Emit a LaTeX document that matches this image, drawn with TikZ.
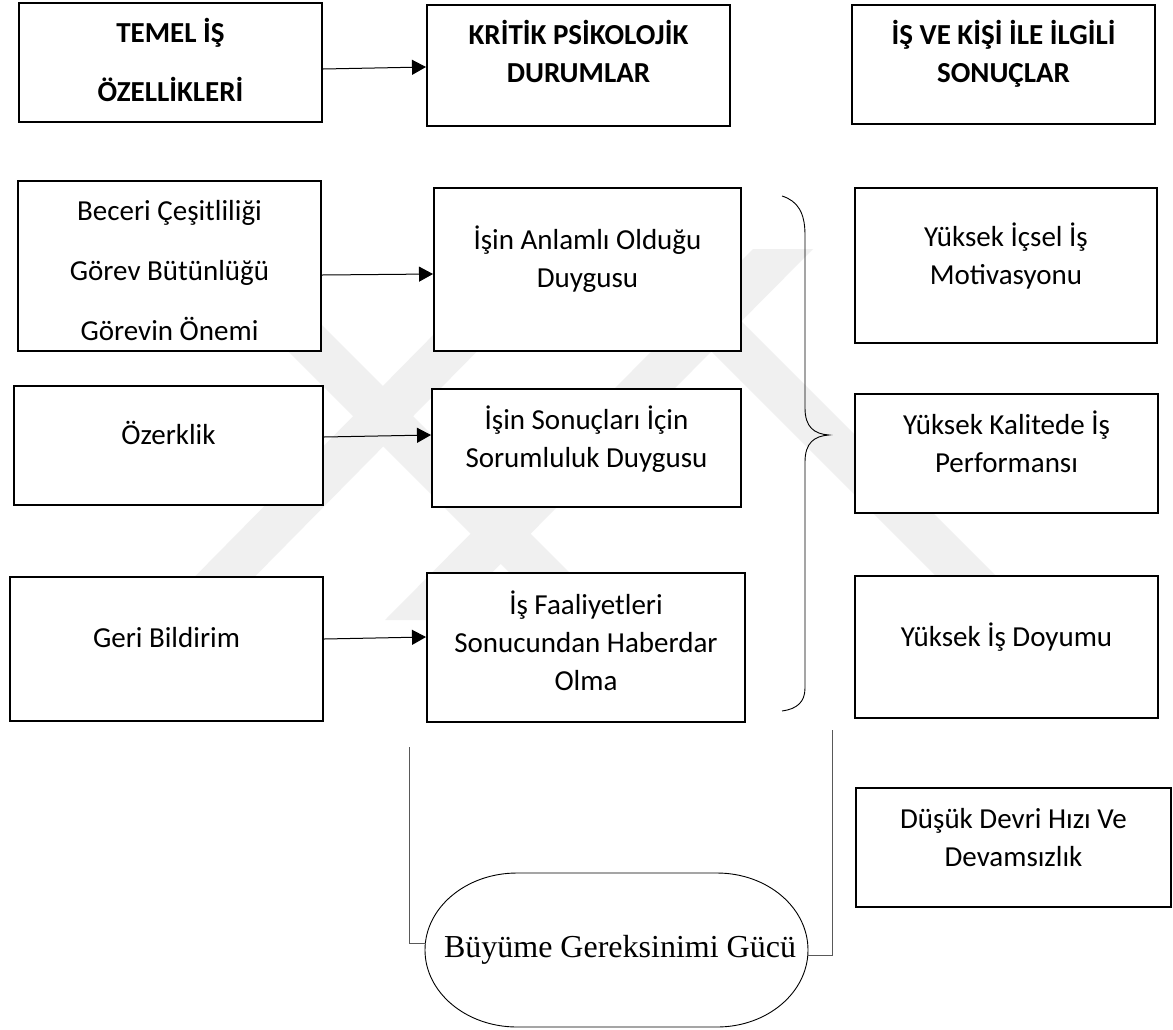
\documentclass[tikz,border=0pt]{standalone}
\usepackage{fontspec}
\setmainfont{Carlito}
\newfontfamily\serifface{Liberation Serif}
\usetikzlibrary{arrows.meta}

% strut that gives every text line the same height and depth
\newcommand\ls{\rule[-0.25em]{0pt}{1.05em}}
% rectangle node given by its corners (x1,y1) and (x2,y2)
\newcommand\boxat[5]{%
  \node[box, minimum width={#4-#2}, minimum height={#5-#3}] (#1) at ({(#2+#4)/2},{(#3+#5)/2}) {};}
% faint diagonal band of the background emblem: top-left x, bottom-left x
\newcommand\band[2]{%
  \fill[emblem] (#1,249) -- ({#1+60},249) -- ({#2+60},620) -- (#2,620) -- cycle;}

\tikzset{
  box/.style={draw, line width=2pt, inner sep=0pt, fill=white},
  txt/.style={align=center, inner sep=0pt, font=\fontsize{29}{38}\selectfont},
  wide/.style={align=center, inner sep=0pt, font=\fontsize{29}{60}\selectfont},
  headtxt/.style={align=center, inner sep=0pt, font=\fontsize{29}{38}\selectfont\bfseries},
  headwide/.style={align=center, inner sep=0pt, font=\fontsize{29}{59}\selectfont\bfseries},
  arr/.style={line width=1pt, -{Triangle[length=14pt,width=15pt]}},
  link/.style={line width=1pt, draw=black!65},
  brace/.style={line width=0.9pt},
  emblem/.style={fill=black!6},
}

\begin{document}
\begin{tikzpicture}[x=1pt,y=-1pt]
\fill[white] (0,0) rectangle (1173,1029);
\useasboundingbox (0,0) rectangle (1173,1029);

% background emblem
\band{518}{152}
\band{186}{557}
\band{753}{385}
\band{609}{980}

% column headings
\boxat{h1}{19}{3}{322}{122}
\boxat{h2}{427}{5}{730}{126}
\boxat{h3}{852}{5}{1155}{124}
\node[headwide] (h1t) at (170.5,63.5) {\ls TEMEL İŞ\\\ls ÖZELLİKLERİ};
\node[headtxt] (h2t) at (578.5,55) {\ls KRİTİK PSİKOLOJİK\\\ls DURUMLAR};
\node[headtxt] (h3t) at (1003.5,55) {\ls İŞ VE KİŞİ İLE İLGİLİ\\\ls SONUÇLAR};

% core job characteristics
\boxat{a1}{18}{181}{321}{351}
\boxat{a2}{14}{386}{323}{505}
\boxat{a3}{10}{577}{323}{721}
\node[wide] (a1t) at (169.5,273) {\ls Beceri Çeşitliliği\\Görev Bütünlüğü\\\ls Görevin Önemi};
\node[txt] (a2t) at (168.5,436.5) {\ls Özerklik};
\node[txt] (a3t) at (166.5,639.5) {\ls Geri Bildirim};

% critical psychological states
\boxat{c1}{434}{188}{741}{351}
\boxat{c2}{432}{389}{741}{507}
\boxat{c3}{427}{573}{745}{722}
\node[txt] (c1t) at (587.5,260) {\ls İşin Anlamlı Olduğu\\\ls Duygusu};
\node[txt] (c2t) at (586.5,440) {\ls İşin Sonuçları İçin\\\ls Sorumluluk Duygusu};
\node[txt] (c3t) at (586,644) {\ls İş Faaliyetleri\\Sonucundan Haberdar\\\ls Olma};

% personal and work outcomes
\boxat{r1}{855}{188}{1157}{343}
\boxat{r2}{855}{394}{1158}{513}
\boxat{r3}{855}{576}{1158}{718}
\boxat{r4}{856}{788}{1171}{907}
\node[txt] (r1t) at (1006,257) {\ls Yüksek İçsel İş\\\ls Motivasyonu};
\node[txt] (r2t) at (1006.5,445) {\ls Yüksek Kalitede İş\\\ls Performansı};
\node[txt] (r3t) at (1006.5,638.5) {\ls Yüksek İş Doyumu};
\node[txt] (r4t) at (1013.5,840) {\ls Düşük Devri Hızı Ve\\\ls Devamsızlık};

% arrows between the columns
\draw[arr] (h1.east |- 0,69) -- (h2.west |- 0,67);
\draw[arr] (a1.east |- 0,275) -- (c1.west |- 0,274);
\draw[arr] (a2.east |- 0,437) -- (c2.west |- 0,435);
\draw[arr] (a3.east |- 0,639) -- (c3.west |- 0,637);

% curly brace grouping the three states
\draw[brace] (782,196) .. controls (798,201) and (805,213) .. (805,235)
  -- (805,408) .. controls (805,427) and (814,434) .. (829,435)
  .. controls (814,436) and (805,443) .. (805,462)
  -- (805,688) .. controls (805,702) and (797,709) .. (782,711);

% growth need strength (flat-topped oval)
\node[inner sep=0pt, font=\serifface\fontsize{32}{38}\selectfont] (g) at (620,950) {Büyüme Gereksinimi Gücü};
\draw[brace] (517,873) -- (717,873)
  arc[start angle=-90, end angle=90, x radius=91, y radius=77]
  -- (517,1027)
  arc[start angle=90, end angle=270, x radius=92, y radius=77] -- cycle;

\coordinate (lt) at (409,747);
\coordinate (rt) at (832,730);
\coordinate (gw) at (426,943);
\coordinate (ge) at (808,955);
\draw[link] (lt) |- (gw);
\draw[link] (rt) |- (ge);
\end{tikzpicture}
\end{document}
